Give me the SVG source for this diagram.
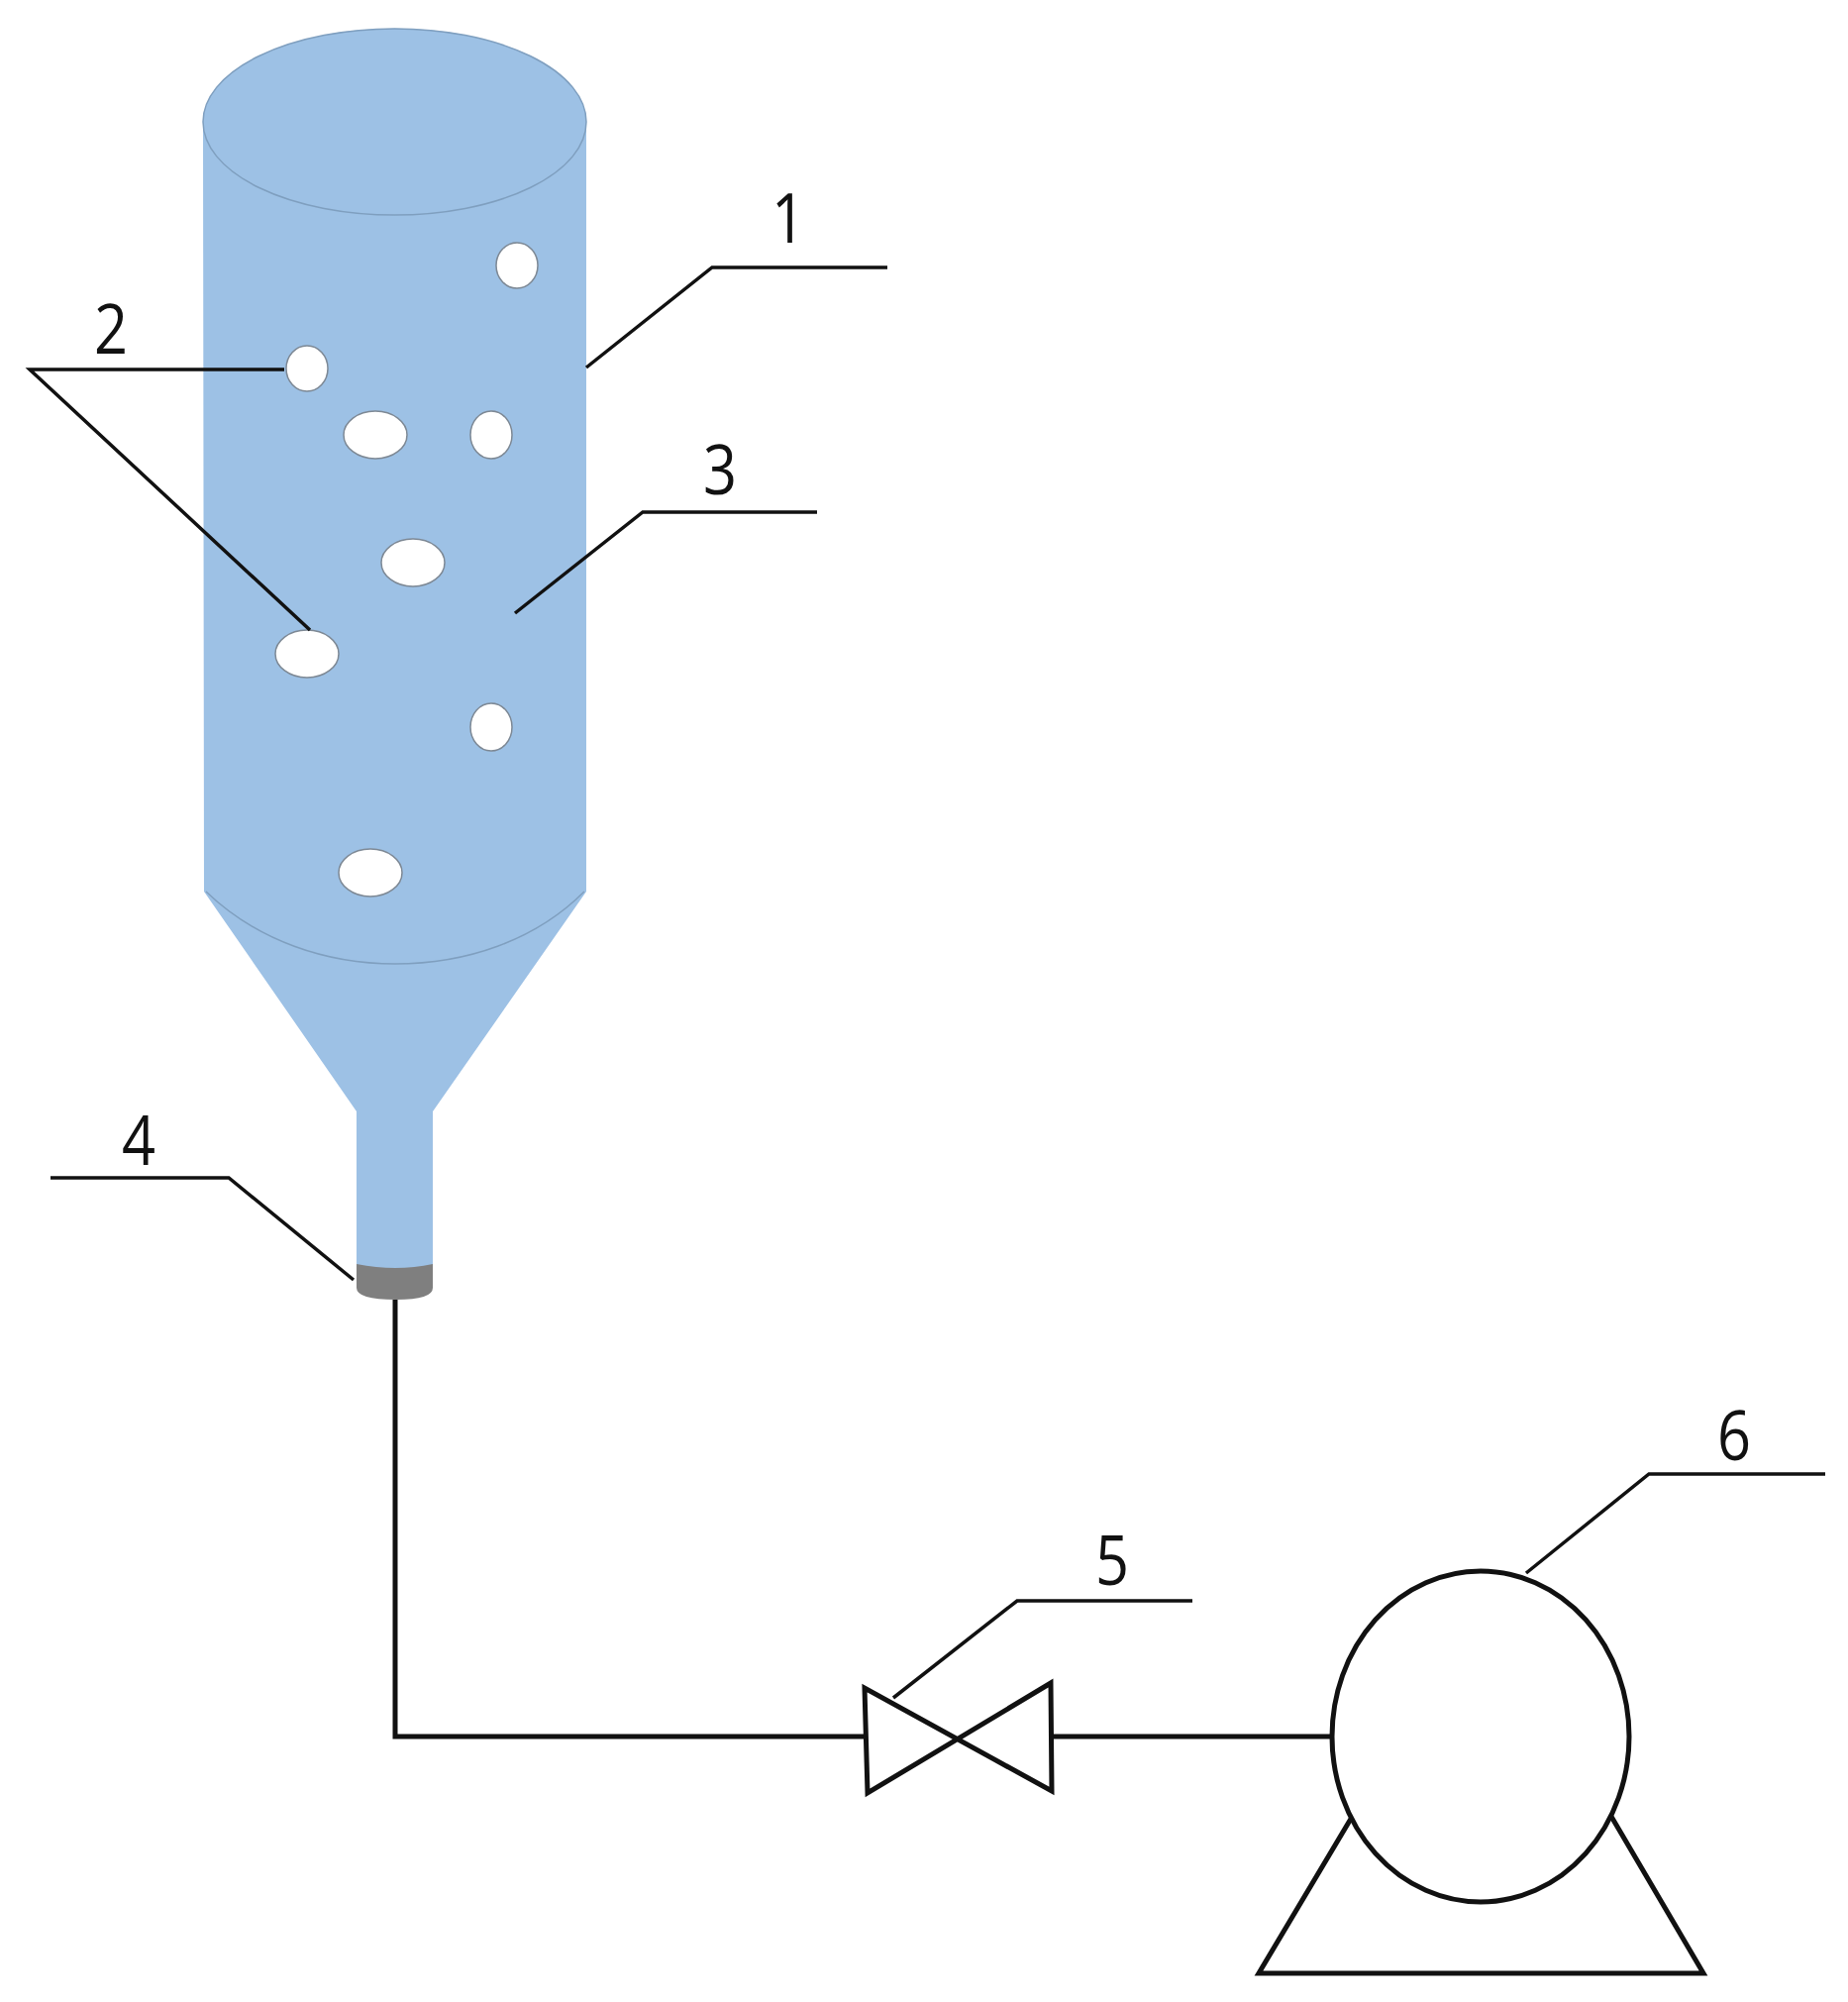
<svg xmlns="http://www.w3.org/2000/svg" width="1866" height="2021" viewBox="0 0 1866 2021">
<style>
.l{fill:none;stroke:#111;stroke-width:3.500;stroke-linejoin:miter}
.p{fill:none;stroke:#111;stroke-width:5}
.h{fill:#fff;stroke:#7d8894;stroke-width:1.5}
.b{fill:#9dc1e5}
.e{fill:none;stroke:#7f9fbf;stroke-width:1.5}
text{font-family:"Open Sans","Liberation Sans",sans-serif;font-size:70px;fill:#111;text-anchor:middle}
</style>
<rect width="1866" height="2021" fill="#fff"/>
<g id="vessel">
<path class="b" d="M205 123A193 94 0 0 1 592 123V900L437 1122V1290H360V1122L206 900Z"/>
<ellipse class="e" cx="398.500" cy="123" rx="193.500" ry="94"/>
<path class="e" d="M208 900C260 950 330 973 399 973C470 973 540 950 590 900"/>
<path fill="#7f7f7f" d="M360 1276Q400 1284 437 1276V1300Q437 1312 400 1312Q360 1312 360 1300Z"/>
</g>
<g id="bubbles">
<ellipse class="h" cx="522" cy="268" rx="21" ry="23"/>
<ellipse class="h" cx="310" cy="372" rx="21" ry="23"/>
<ellipse class="h" cx="379" cy="439" rx="32" ry="24"/>
<ellipse class="h" cx="496" cy="439" rx="21" ry="24"/>
<ellipse class="h" cx="417" cy="568" rx="32" ry="24"/>
<ellipse class="h" cx="310" cy="660" rx="32" ry="24"/>
<ellipse class="h" cx="496" cy="734" rx="21" ry="24"/>
<ellipse class="h" cx="374" cy="881" rx="32" ry="24"/>
</g>
<g id="connectors">
<path class="p" d="M399 1312V1753H872"/>
<path class="p" d="M1062 1753H1344"/>
<path class="l" d="M592 371L719 270H896"/>
<path class="l" d="M287 373H30L313 636"/>
<path class="l" d="M520 619L649 517H825"/>
<path class="l" d="M51 1189H231L357 1292"/>
<path class="l" d="M902 1714L1027 1616H1204"/>
<path class="l" d="M1541 1588L1665 1488H1843"/>
</g>
<g id="valve">
<path class="p" d="M873 1704L876 1810L1061 1699L1062 1808Z"/>
</g>
<g id="pump">
<ellipse class="p" cx="1495" cy="1753" rx="150" ry="167"/>
<path class="p" d="M1364 1836L1271 1992H1720L1626 1832"/>
</g>
<g id="labels">
<text x="796" y="245" textLength="34" lengthAdjust="spacingAndGlyphs">1</text>
<text x="112" y="357" textLength="34" lengthAdjust="spacingAndGlyphs">2</text>
<text x="727" y="499" textLength="34" lengthAdjust="spacingAndGlyphs">3</text>
<text x="140" y="1176" textLength="34" lengthAdjust="spacingAndGlyphs">4</text>
<text x="1123" y="1600" textLength="34" lengthAdjust="spacingAndGlyphs">5</text>
<text x="1751" y="1474" textLength="34" lengthAdjust="spacingAndGlyphs">6</text>
</g>
</svg>
